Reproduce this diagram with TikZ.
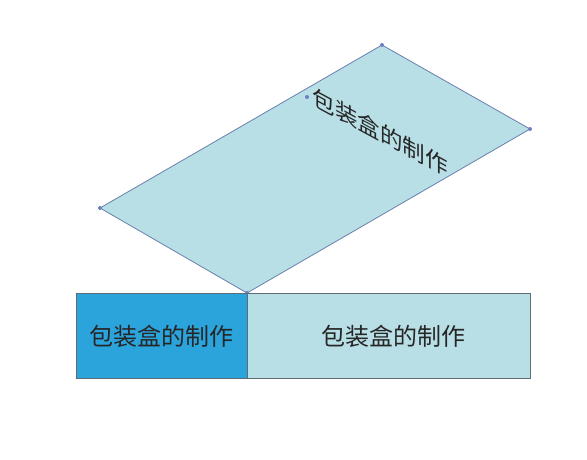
\documentclass[tikz,border=0pt]{standalone}
\usepackage{fontspec}
\newfontfamily\cjk{Noto Sans CJK SC}
\definecolor{lidfill}{HTML}{B8DFE6}
\definecolor{frontfill}{HTML}{2BA4DC}
\definecolor{lidline}{HTML}{6A7FAD}
\definecolor{boxline}{HTML}{5D6D74}
\definecolor{handle}{HTML}{6F7FC4}
\tikzset{
  label text/.style={font=\cjk\fontsize{24}{24}\selectfont, text=black!85, inner sep=0pt},
  handle dot/.style={fill=handle, draw=none}
}
\begin{document}
\begin{tikzpicture}[x=1pt,y=-1pt]
      \useasboundingbox (0,0) rectangle (587,460);
      % lid, folded up
      \coordinate (lidtop) at (382,45);
      \coordinate (lidright) at (530,129);
      \coordinate (lidbottom) at (247,293);
      \coordinate (lidleft) at (100,208);
      \filldraw[fill=lidfill, draw=lidline, line width=0.8pt] (lidtop) -- (lidright) -- (lidbottom) -- (lidleft) -- cycle;
      \begin{scope}[shift={(380,132)}, yslant=-0.54]
        \node[label text, transform shape, font=\cjk\fontsize{22.5}{24}\selectfont] (lidlabel) at (0,0) {包装盒的制作};
      \end{scope}
      \foreach \c in {lidtop,lidright,lidbottom,lidleft} \fill[handle dot] (\c) circle (2);
      \fill[handle dot] (307,97) circle (2);
      % front faces
      \filldraw[fill=frontfill, draw=boxline, line width=0.8pt] (76,293) rectangle (247,378);
      \filldraw[fill=lidfill, draw=boxline, line width=0.8pt] (247,293) rectangle (530,378);
      \node[label text] (leftlabel) at (161.5,336) {包装盒的制作};
      \node[label text] (rightlabel) at (393,336) {包装盒的制作};
    \end{tikzpicture}
\end{document}
